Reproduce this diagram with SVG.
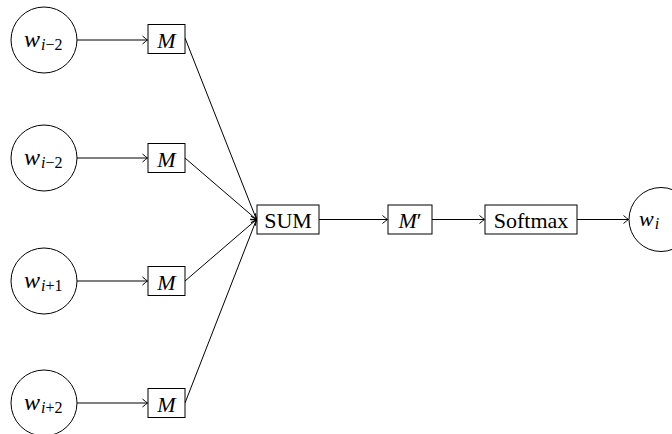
<svg xmlns="http://www.w3.org/2000/svg" width="672" height="434" viewBox="0 0 672 434">
<defs>
<marker id="arr" viewBox="-6 -5 8 10" markerWidth="8" markerHeight="10" refX="0" refY="0" orient="auto" markerUnits="userSpaceOnUse">
<path d="M-5,-4 Q-1.5,-1 0,0 Q-1.5,1 -5,4" fill="none" stroke="#000" stroke-width="1"/>
</marker>
</defs>
<style>
.n{fill:#fff;stroke:#000;stroke-width:1}
.t{font-family:"Liberation Serif",serif;font-size:22px;fill:#000}
.w{font-size:24px}
.m{font-style:italic}
.s{font-size:16px}
.c line{stroke:#000;stroke-width:1;marker-end:url(#arr)}
</style>
<rect width="672" height="434" fill="#fff"/>
<g class="c" id="connectors">
<line x1="77" y1="40" x2="147.5" y2="40"/>
<line x1="77" y1="158" x2="147.5" y2="158"/>
<line x1="77" y1="281" x2="147.5" y2="281"/>
<line x1="77" y1="403" x2="147.5" y2="403"/>
<line x1="185" y1="38" x2="256.5" y2="219.5"/>
<line x1="185" y1="158" x2="256.5" y2="219.5"/>
<line x1="185" y1="281" x2="256.5" y2="219.5"/>
<line x1="185" y1="403" x2="256.5" y2="219.5"/>
<line x1="319" y1="219.5" x2="387.5" y2="219.5"/>
<line x1="432" y1="219.5" x2="484.5" y2="219.5"/>
<line x1="577" y1="219.5" x2="628.5" y2="219.5"/>
</g>
<g id="w1"><circle class="n" cx="44" cy="40" r="33"/><text class="t w" x="24" y="47"><tspan class="m">w</tspan><tspan class="s" dx="1" dy="3"><tspan class="m">i</tspan>−2</tspan></text></g>
<g id="w2"><circle class="n" cx="44" cy="158" r="33"/><text class="t w" x="24" y="165"><tspan class="m">w</tspan><tspan class="s" dx="1" dy="3"><tspan class="m">i</tspan>−2</tspan></text></g>
<g id="w3"><circle class="n" cx="44" cy="281" r="33"/><text class="t w" x="24" y="288"><tspan class="m">w</tspan><tspan class="s" dx="1" dy="3"><tspan class="m">i</tspan>+1</tspan></text></g>
<g id="w4"><circle class="n" cx="44" cy="403" r="33"/><text class="t w" x="24" y="410"><tspan class="m">w</tspan><tspan class="s" dx="1" dy="3"><tspan class="m">i</tspan>+2</tspan></text></g>
<g id="m1"><rect class="n" x="148" y="24.5" width="37" height="29"/><text class="t m" x="166.5" y="47.5" text-anchor="middle">M</text></g>
<g id="m2"><rect class="n" x="148" y="143.5" width="37" height="29"/><text class="t m" x="166.5" y="166.5" text-anchor="middle">M</text></g>
<g id="m3"><rect class="n" x="148" y="266.5" width="37" height="29"/><text class="t m" x="166.5" y="289.5" text-anchor="middle">M</text></g>
<g id="m4"><rect class="n" x="148" y="388.5" width="37" height="29"/><text class="t m" x="166.5" y="411.5" text-anchor="middle">M</text></g>
<g id="sum"><rect class="n" x="257" y="205" width="62" height="29"/><text class="t" x="288" y="227.5" text-anchor="middle">SUM</text></g>
<g id="mp"><rect class="n" x="388" y="205" width="44" height="29"/><text class="t" x="410" y="227.5" text-anchor="middle"><tspan class="m">M</tspan>′</text></g>
<g id="softmax"><rect class="n" x="485" y="205" width="92" height="29"/><text class="t" x="531" y="227.5" text-anchor="middle">Softmax</text></g>
<g id="wi"><circle class="n" cx="661" cy="219.5" r="32"/><text class="t" x="639" y="226"><tspan class="m">w</tspan><tspan class="s m" dx="1" dy="3">i</tspan></text></g>
</svg>
